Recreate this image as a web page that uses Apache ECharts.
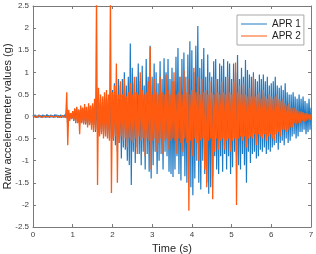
<!DOCTYPE html>
<html>
<head>
<meta charset="utf-8">
<script src="https://cdn.jsdelivr.net/npm/echarts@6/dist/echarts.min.js"></script>
<style>
html,body{margin:0;padding:0;background:#fff;}
#chart{width:316px;height:254px;}
</style>
</head>
<body>
<div id="chart"></div>
<script>
// Sampling step of the recorded signals (s)
const dt = 0.025;
const seriesNames = ['APR 1', 'APR 2'];
const xTicks = [0, 1, 2, 3, 4, 5, 6, 7];
const yTicks = [-2.5, -2, -1.5, -1, -0.5, 0, 0.5, 1, 1.5, 2, 2.5];

// APR 1 raw accelerometer values (g)
const apr1 = [
0.03,-0.02,0.04,-0.03,0.02,-0.03,0.04,-0.02,0.03,-0.03,
0.04,-0.02,0.03,-0.03,0.05,-0.02,0.03,-0.03,0.04,-0.02,
0.03,-0.03,0.05,-0.02,0.04,-0.03,0.03,-0.02,0.04,-0.03,
0.03,-0.02,0.04,-0.03,0.2,-0.25,0.08,-0.06,0.07,-0.05,
0.12,-0.1,0.18,-0.15,0.2,-0.12,0.16,-0.18,0.2,-0.14,
0.18,-0.15,0.22,-0.18,0.15,-0.2,0.24,-0.16,0.2,-0.18,
0.25,-0.2,0.3,-0.35,0.4,-0.3,0.35,-0.4,0.3,-0.35,
0.4,-0.35,0.45,-0.4,0.5,-0.45,0.4,-0.5,0.45,-0.5,
0.6,-0.55,0.75,-0.65,0.55,-0.8,0.85,-0.6,0.7,-0.95,
0.85,-0.7,1.0,-0.75,0.7,-1.0,0.9,-1.1,1.65,-1.55,
1.1,-0.8,0.75,-1.05,0.9,-0.7,1.2,-0.85,0.8,-1.1,
1.15,-0.8,0.7,-1.2,1.3,-0.85,0.9,-1.25,1.6,-1.4,
0.9,-1.1,1.2,-0.8,1.0,-1.3,0.75,-1.0,1.25,-0.85,
0.85,-1.2,1.32,-0.8,1.0,-0.9,1.3,-1.25,0.85,-1.3,
1.1,-1.37,0.8,-1.2,1.35,-0.9,1.55,-1.3,0.9,-1.45,
1.3,-0.9,1.45,-1.35,0.9,-1.5,1.4,-1.0,1.7,-1.6,
1.5,-1.78,1.0,-1.4,1.6,-1.0,2.05,-1.5,1.1,-1.65,
1.3,-1.0,1.55,-1.3,0.9,-1.5,1.4,-1.75,1.0,-1.6,
0.9,-1.35,1.25,-0.9,1.3,-1.2,0.85,-1.3,1.2,-0.9,
1.15,-1.25,1.3,-0.85,0.9,-1.2,1.25,-0.9,1.2,-1.3,
0.85,-1.15,1.2,-0.8,1.0,-0.9,1.39,-1.1,0.85,-1.2,
1.1,-0.85,0.9,-1.1,1.28,-1.5,1.05,-0.8,0.95,-1.05,
0.9,-0.85,1.0,-0.8,0.85,-0.95,0.8,-0.9,0.95,-0.75,
0.85,-0.8,0.95,-0.7,0.8,-0.85,0.9,-0.75,0.7,-0.8,
0.75,-0.7,0.8,-0.65,0.9,-0.6,0.7,-0.75,0.65,-0.6,
0.7,-0.55,0.6,-0.65,0.75,-0.5,0.55,-0.6,0.5,-0.55,
0.5,-0.45,0.55,-0.4,0.45,-0.5,0.4,-0.45,0.5,-0.35,
0.4,-0.35,0.45,-0.3,0.35,-0.4,0.3,-0.35,0.4,-0.3,0.2
];

// APR 2 raw accelerometer values (g)
const apr2 = [
0.02,-0.01,0.02,-0.02,0.01,-0.02,0.02,-0.01,0.02,-0.02,
0.02,-0.02,0.01,-0.02,0.02,-0.01,0.02,-0.02,0.01,-0.02,
0.02,-0.01,0.02,-0.02,0.01,-0.02,0.02,-0.02,0.01,-0.02,
0.02,-0.02,0.03,-0.03,0.55,-0.65,0.15,-0.1,0.08,-0.06,
0.12,-0.08,0.18,-0.14,0.22,-0.15,0.15,-0.4,0.25,-0.15,
0.2,-0.18,0.28,-0.15,0.22,-0.25,0.3,-0.2,0.25,-0.3,
0.3,-0.35,0.4,-0.3,2.8,-1.55,0.65,-0.45,0.5,-0.4,
0.45,-0.5,0.55,-0.45,0.6,-0.5,0.5,-0.55,2.8,-1.73,
0.55,-0.5,0.7,-0.45,1.2,-1.5,0.5,-0.6,0.8,-0.45,
0.5,-0.55,0.85,-0.5,0.45,-0.7,0.55,-0.5,0.75,-0.55,
0.5,-0.6,0.9,-0.5,0.55,-0.85,0.5,-0.45,1.0,-0.55,
0.6,-0.5,0.5,-0.9,0.55,-0.5,0.8,-0.55,1.58,-1.2,
0.5,-0.55,0.85,-0.5,0.55,-0.8,0.5,-0.6,0.9,-0.5,
0.55,-0.85,0.5,-0.55,0.95,-0.5,0.6,-0.75,0.5,-0.55,
0.8,-0.5,1.0,-0.55,0.5,-0.85,0.55,-0.5,0.9,-0.6,
0.5,-0.8,1.05,-0.5,0.55,-0.6,0.85,-2.13,0.5,-0.55,
0.6,-0.9,1.1,-0.5,0.55,-0.6,0.9,-1.0,0.5,-0.55,
0.85,-0.5,0.55,-1.2,0.6,-1.6,0.5,-0.55,0.8,-0.5,
0.55,-1.87,0.5,-0.8,0.85,-0.5,0.55,-0.75,0.5,-0.55,
0.8,-0.5,0.55,-0.75,0.5,-0.55,0.9,-0.5,0.55,-0.8,
0.5,-0.55,0.8,-0.5,1.22,-2.0,0.55,-0.5,0.7,-0.45,
0.5,-0.55,0.75,-0.45,0.5,-0.7,0.45,-0.5,0.65,-0.45,
0.45,-0.5,0.9,-0.4,0.45,-0.65,0.5,-0.4,0.55,-0.45,
0.4,-0.5,0.6,-0.4,0.45,-0.55,0.4,-0.45,0.5,-0.4,
0.45,-0.5,0.4,-0.55,0.45,-0.4,0.5,-0.35,0.4,-0.45,
0.35,-0.3,0.4,-0.3,0.3,-0.35,0.25,-0.3,0.3,-0.25,
0.2,-0.25,0.2,-0.15,0.2,-0.18,0.15,-0.15,0.12,-0.15,
0.12,-0.1,0.1,-0.12,0.08,-0.1,0.08,-0.07,0.06,-0.08,0.05
];

function toPairs(arr){ return arr.map((v,i)=>[+(i*dt).toFixed(4), v]); }

const axisColor = '#7a7a7a';
const textColor = '#404040';
const font = 'Arial, "Liberation Sans", Helvetica, sans-serif';

const chart = echarts.init(document.getElementById('chart'), null, {renderer:'canvas'});
const option = {
  animation: false,
  backgroundColor: '#fff',
  textStyle: {fontFamily: font},
  grid: {left: 33, right: 5, top: 6, bottom: 27, containLabel: false, outerBoundsMode: 'none'},
  legend: {
    data: seriesNames,
    orient: 'vertical',
    left: 237, top: 15,
    itemWidth: 26, itemHeight: 1,
    itemGap: 0,
    icon: 'rect',
    padding: [3, 3, 3, 4],
    borderColor: '#a8a8a8', borderWidth: 1,
    backgroundColor: '#fff',
    textStyle: {fontSize: 10, color: '#222', fontFamily: font, lineHeight: 12},
    selectedMode: false
  },
  xAxis: [{
    type: 'value', min: xTicks[0], max: xTicks[xTicks.length-1], interval: 1,
    name: 'Time (s)', nameLocation: 'middle', nameGap: 16, nameMoveOverlap: false,
    nameTextStyle: {fontSize: 11, color: '#262626', fontFamily: font},
    axisLine: {show: true, onZero: false, lineStyle: {color: axisColor, width: 1}},
    axisTick: {show: true, inside: true, length: 3, lineStyle: {color: axisColor}},
    axisLabel: {fontSize: 8, color: textColor, margin: 4, fontFamily: font},
    splitLine: {show: false}
  },{
    type: 'value', position: 'top', min: xTicks[0], max: xTicks[xTicks.length-1], interval: 1,
    axisLine: {show: true, onZero: false, lineStyle: {color: axisColor, width: 1}},
    axisTick: {show: true, inside: true, length: 3, lineStyle: {color: axisColor}},
    axisLabel: {show: false}, splitLine: {show: false}
  }],
  yAxis: [{
    type: 'value', min: yTicks[0], max: yTicks[yTicks.length-1], interval: 0.5,
    name: 'Raw accelerometer values (g)', nameLocation: 'middle', nameGap: 20, nameMoveOverlap: false,
    nameTextStyle: {fontSize: 11, color: '#262626', fontFamily: font},
    axisLine: {show: true, onZero: false, lineStyle: {color: axisColor, width: 1}},
    axisTick: {show: true, inside: true, length: 3, lineStyle: {color: axisColor}},
    axisLabel: {fontSize: 8, color: textColor, margin: 4, fontFamily: font},
    splitLine: {show: false}
  },{
    type: 'value', position: 'right', min: yTicks[0], max: yTicks[yTicks.length-1], interval: 0.5,
    axisLine: {show: true, onZero: false, lineStyle: {color: axisColor, width: 1}},
    axisTick: {show: true, inside: true, length: 3, lineStyle: {color: axisColor}},
    axisLabel: {show: false}, splitLine: {show: false}
  }],
  series: [{
    name: seriesNames[0], type: 'line', data: toPairs(apr1),
    showSymbol: false, symbol: 'none', clip: true, sampling: null,
    itemStyle: {color: '#1f7ac4'},
    lineStyle: {color: '#1f7ac4', width: 1.2}
  },{
    name: seriesNames[1], type: 'line', data: toPairs(apr2),
    showSymbol: false, symbol: 'none', clip: true, sampling: null,
    itemStyle: {color: '#ff5a0f'},
    lineStyle: {color: '#ff5a0f', width: 1.3}
  }]
};
chart.setOption(option);
</script>
</body>
</html>
